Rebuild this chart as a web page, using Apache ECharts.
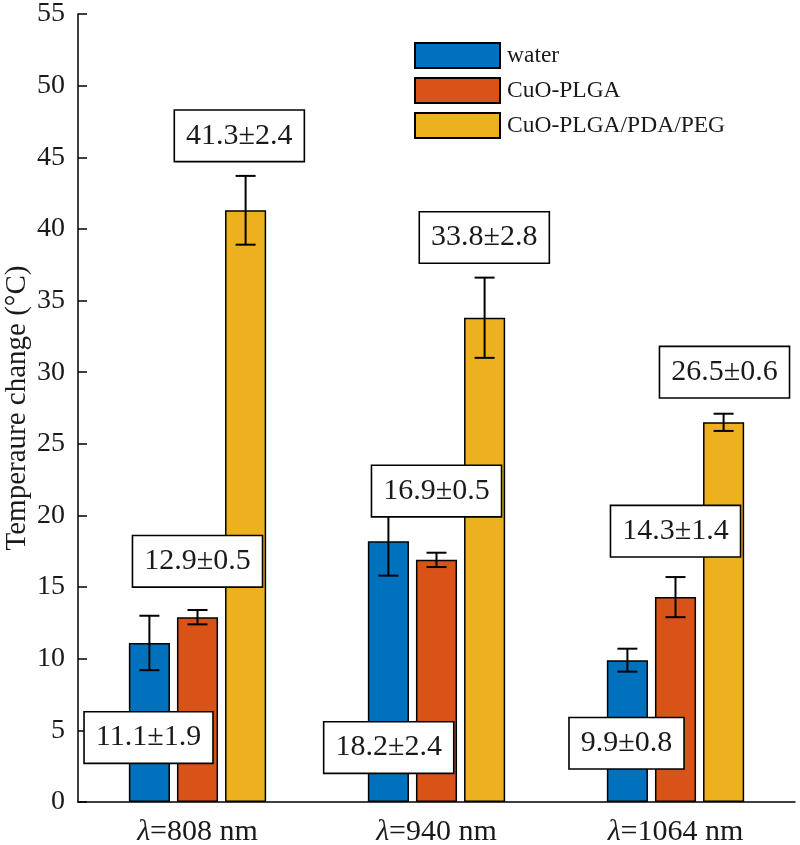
<!DOCTYPE html>
<html>
<head>
<meta charset="utf-8">
<script src="https://cdn.jsdelivr.net/npm/echarts@6/dist/echarts.min.js"></script>
<style>html,body{margin:0;padding:0;background:#fff}#c{width:800px;height:845px}</style>
</head>
<body>
<div id="c"></div>
<script>
// ---- data ----
const categories = ['808', '940', '1064'];
const seriesNames = ['water', 'CuO-PLGA', 'CuO-PLGA/PDA/PEG'];
const waterMean = [11.1, 18.2, 9.9];
const waterErr = [1.9, 2.4, 0.8];
const plgaMean = [12.9, 16.9, 14.3];
const plgaErr = [0.5, 0.5, 1.4];
const pegMean = [41.3, 33.8, 26.5];
const pegErr = [2.4, 2.8, 0.6];
const yTicks = [0, 5, 10, 15, 20, 25, 30, 35, 40, 45, 50, 55];

// annotation box anchors (category offset, value) per series
const waterLabelDX = [-0.205, -0.2, -0.205];
const waterLabelY = [4.5, 3.8, 4.1];
const plgaLabelDX = [0.0, 0.0, 0.0];
const plgaLabelY = [16.8, 21.7, 18.9];
const pegLabelDX = [0.175, 0.2, 0.205];
const pegLabelY = [46.5, 39.4, 30.0];

// ---- styling ----
const colors = ['#0072BD', '#D95319', '#EDB120'];
const FONT = '"Liberation Serif", "Times New Roman", serif';
const TXT = '#1a1a1a';
const BAR_FRAC = 0.172;
const BAR_GAP = 0.17;

const means = [waterMean, plgaMean, pegMean];
const errs = [waterErr, plgaErr, pegErr];
const labDX = [waterLabelDX, plgaLabelDX, pegLabelDX];
const labY = [waterLabelY, plgaLabelY, pegLabelY];

function renderErr(params, api) {
  const cat = api.value(0), v = api.value(1), e = api.value(2), s = api.value(3);
  const band = api.size([1, 0])[0];
  const bw = band * BAR_FRAC, gap = bw * BAR_GAP;
  const off = (s - 1) * (bw + gap);
  const top = api.coord([cat, v + e]);
  const bot = api.coord([cat, v - e]);
  const x = top[0] + off, cap = 10;
  const st = { stroke: '#000', lineWidth: 2 };
  return {
    type: 'group',
    children: [
      { type: 'line', shape: { x1: x, y1: top[1], x2: x, y2: bot[1] }, style: st },
      { type: 'line', shape: { x1: x - cap, y1: top[1], x2: x + cap, y2: top[1] }, style: st },
      { type: 'line', shape: { x1: x - cap, y1: bot[1], x2: x + cap, y2: bot[1] }, style: st }
    ]
  };
}

function renderLabel(params, api) {
  const cat = api.value(0), dx = api.value(1), y = api.value(2), s = api.value(3);
  const band = api.size([1, 0])[0];
  const p = api.coord([cat, y]);
  const i = cat;
  const txt = means[s][i].toFixed(1) + '±' + errs[s][i].toFixed(1);
  return {
    type: 'text',
    x: p[0] + dx * band,
    y: p[1],
    z2: 100,
    style: {
      text: txt,
      fontSize: 30,
      fontFamily: FONT,
      fill: TXT,
      align: 'center',
      verticalAlign: 'middle',
      backgroundColor: '#fff',
      borderColor: '#000',
      borderWidth: 1.6,
      padding: [11, 11, 9, 11]
    }
  };
}

const series = [];
for (let s = 0; s < 3; s++) {
  series.push({
    name: seriesNames[s],
    type: 'bar',
    data: means[s],
    barWidth: (BAR_FRAC * 100) + '%',
    barGap: (BAR_GAP * 100) + '%',
    itemStyle: { color: colors[s], borderColor: '#000', borderWidth: 1.5 },
    z: 2
  });
}
for (let s = 0; s < 3; s++) {
  series.push({
    type: 'custom',
    renderItem: renderErr,
    data: means[s].map((v, i) => [i, v, errs[s][i], s]),
    z: 5,
    silent: true
  });
}
for (let s = 0; s < 3; s++) {
  series.push({
    type: 'custom',
    renderItem: renderLabel,
    data: means[s].map((v, i) => [i, labDX[s][i], labY[s][i], s]),
    z: 10,
    silent: true
  });
}

const chart = echarts.init(document.getElementById('c'), null, { renderer: 'canvas' });
chart.setOption({
  animation: false,
  backgroundColor: '#fff',
  grid: { left: 78, right: 5, top: 14, bottom: 43, containLabel: false, outerBoundsMode: 'none' },
  legend: {
    data: seriesNames,
    orient: 'vertical',
    left: 414,
    top: 42,
    padding: 0,
    itemWidth: 85,
    itemHeight: 25,
    itemGap: 8,
    icon: 'rect',
    textStyle: { fontSize: 23.5, fontFamily: FONT, color: TXT, padding: [0, 0, 0, 2] }
  },
  xAxis: {
    type: 'category',
    data: categories,
    axisLine: { lineStyle: { color: '#000', width: 1.5 } },
    axisTick: { show: false },
    axisLabel: {
      margin: 15,
      formatter: v => '{l|λ}{n|=' + v + ' nm}',
      rich: {
        l: { fontSize: 30, fontFamily: FONT, fontStyle: 'italic', color: TXT },
        n: { fontSize: 30, fontFamily: FONT, color: TXT }
      }
    }
  },
  yAxis: {
    type: 'value',
    min: yTicks[0],
    max: yTicks[yTicks.length - 1],
    interval: yTicks[1] - yTicks[0],
    name: 'Temperaure change (°C)',
    nameLocation: 'middle',
    nameGap: 46,
    nameMoveOverlap: false,
    nameTextStyle: { fontSize: 29, fontFamily: FONT, color: TXT },
    axisLine: { show: true, lineStyle: { color: '#000', width: 1.5 } },
    axisTick: { show: true, inside: true, length: 9, lineStyle: { color: '#000', width: 1.5 } },
    splitLine: { show: false },
    axisLabel: { fontSize: 28, fontFamily: FONT, color: TXT, margin: 13 }
  },
  series: series
});
</script>
</body>
</html>
